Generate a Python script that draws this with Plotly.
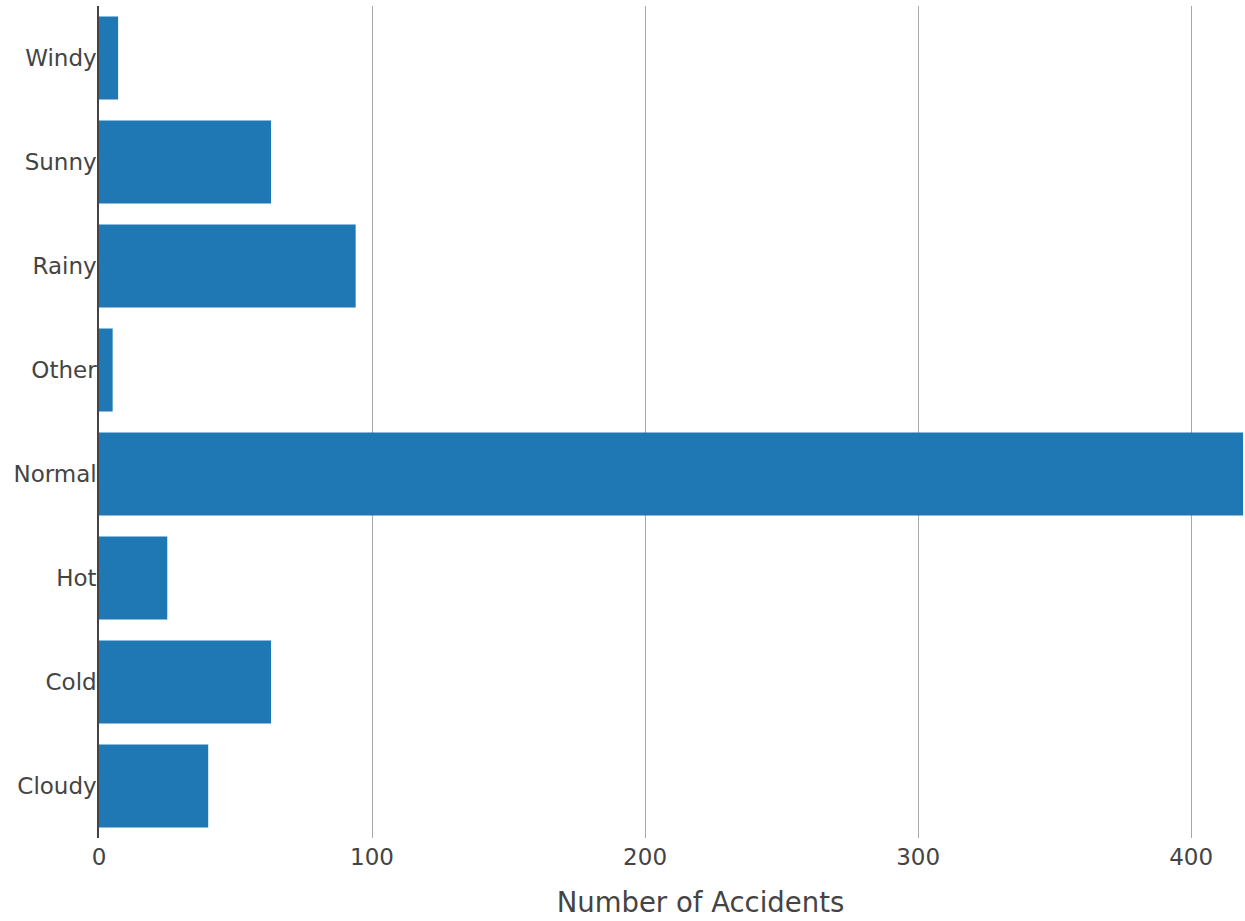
import plotly.graph_objects as go

categories = ["Cloudy", "Cold", "Hot", "Normal", "Other", "Rainy", "Sunny", "Windy"]
accidents = [40, 63, 25, 419, 5, 94, 63, 7]
x_ticks = [0, 100, 200, 300, 400]

fig = go.Figure(
    go.Bar(
        x=accidents,
        y=categories,
        orientation="h",
        marker=dict(color="#1f77b4", line=dict(width=0)),
    )
)

fig.update_layout(
    width=1303,
    height=921,
    margin=dict(l=99, r=1, t=6, b=83),
    paper_bgcolor="white",
    plot_bgcolor="white",
    font=dict(family="Verdana, DejaVu Sans, sans-serif", size=23, color="#444"),
    bargap=0.2,
    showlegend=False,
    xaxis=dict(
        range=[0, 440.6],
        tickvals=x_ticks,
        showgrid=True,
        gridcolor="#a8a8a8",
        gridwidth=1.2,
        zeroline=False,
        showline=False,
        ticks="",
        ticklabelstandoff=3,
        title=dict(text="Number of Accidents", font=dict(size=27.5, color="#444"), standoff=23),
    ),
    yaxis=dict(
        categoryorder="array",
        categoryarray=categories,
        showgrid=False,
        zeroline=False,
        showline=True,
        linecolor="#444",
        linewidth=1.5,
        ticks="",
        ticklabelstandoff=-4,
    ),
)

fig.write_html(
    "out.html",
    config={"displayModeBar": False},
    post_script="document.body.style.margin='0';document.body.style.overflow='hidden';",
)
